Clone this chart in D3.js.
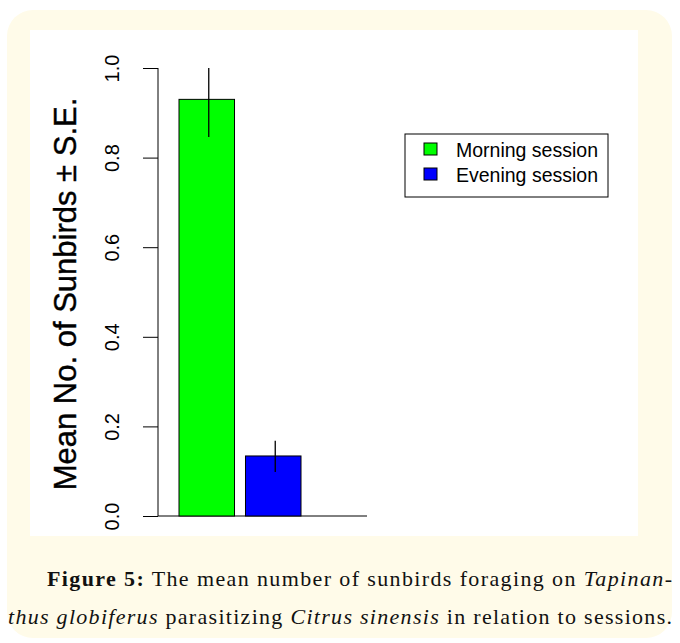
<!DOCTYPE html>
<html>
<head>
<meta charset="utf-8">
<script src="https://cdn.jsdelivr.net/npm/d3@7"></script>
<style>
  body { margin: 0; background: #fff; }
</style>
</head>
<body>
<div id="chart"></div>
<script>
// Data
const sessions = ["Morning session", "Evening session"];
const means = [0.93, 0.134];
const errLow = [0.846, 0.098];
const errHigh = [1.0, 0.168];
const barColors = ["#00ff00", "#0000ff"];
const yTicks = [0, 0.2, 0.4, 0.6, 0.8, 1.0];

const W = 680, H = 643;

const svg = d3.select("#chart")
  .append("svg")
    .attr("width", W)
    .attr("height", H)
    .style("font-family", "'Liberation Sans', Arial, sans-serif");

// Cream page panel and white figure area
svg.append("rect")
    .attr("x", 7).attr("y", 10)
    .attr("width", 665).attr("height", 628)
    .attr("rx", 26)
    .attr("fill", "#fffbe9");
svg.append("rect")
    .attr("x", 30).attr("y", 30)
    .attr("width", 608).attr("height", 506)
    .attr("fill", "#fff");

// Scales
const y = d3.scaleLinear().domain([0, 1]).range([516, 68]);
const x = d3.scaleBand()
  .domain(sessions)
  .range([179, 301])
  .paddingInner(0.165);

// Y axis (R style: long ticks, rotated labels)
const yAxis = svg.append("g")
    .attr("transform", "translate(158,0)")
    .call(d3.axisLeft(y).tickValues(yTicks).tickSize(15).tickFormat(d3.format(".1f")));
yAxis.attr("font-family", null).attr("font-size", null);
yAxis.select(".domain").attr("d", `M0,${y(1)}V${y(0)}`).attr("stroke", "#000");
yAxis.selectAll(".tick line").attr("stroke", "#000");
yAxis.selectAll(".tick text")
    .attr("x", 0)
    .attr("text-anchor", "middle")
    .attr("transform", "translate(-46,0) rotate(-90)")
    .attr("dy", "0.35em")
    .style("font-size", "20px")
    .attr("fill", "#000");

// Base line
svg.append("line")
    .attr("x1", 158).attr("x2", 367)
    .attr("y1", y(0)).attr("y2", y(0))
    .attr("stroke", "#000");

// Bars
svg.selectAll("rect.bar")
  .data(sessions)
  .enter()
  .append("rect")
    .attr("class", "bar")
    .attr("x", d => x(d))
    .attr("y", (d, i) => y(means[i]))
    .attr("width", x.bandwidth())
    .attr("height", (d, i) => y(0) - y(means[i]))
    .attr("fill", (d, i) => barColors[i])
    .attr("stroke", "#000");

// Error bars
svg.selectAll("line.err")
  .data(sessions)
  .enter()
  .append("line")
    .attr("class", "err")
    .attr("x1", d => x(d) + x.bandwidth() / 2 + 2)
    .attr("x2", d => x(d) + x.bandwidth() / 2 + 2)
    .attr("y1", (d, i) => y(errLow[i]))
    .attr("y2", (d, i) => y(errHigh[i]))
    .attr("stroke", "#000")
    .attr("stroke-width", 1.3);

// Y axis title
svg.append("text")
    .attr("transform", `translate(65,${(y(0) + y(1)) / 2 + 2}) rotate(-90)`)
    .attr("text-anchor", "middle")
    .attr("dy", "0.35em")
    .style("font-size", "31px")
    .style("stroke", "#000")
    .style("stroke-width", 0.4)
    .text("Mean No. of Sunbirds \u00b1 S.E.");

// Legend
const legend = svg.append("g").attr("transform", "translate(405,134)");
legend.append("rect")
    .attr("width", 203).attr("height", 63)
    .attr("fill", "#fff").attr("stroke", "#000");
sessions.forEach((s, i) => {
  legend.append("rect")
      .attr("x", 19).attr("y", 9 + i * 25)
      .attr("width", 13).attr("height", 12)
      .attr("fill", barColors[i]).attr("stroke", "#000");
  legend.append("text")
      .attr("x", 51).attr("y", 23 + i * 25)
      .style("font-size", "19.5px")
      .text(s);
});

// Caption
const cap = svg.append("g")
    .style("font-family", "'Liberation Serif', 'DejaVu Serif', serif")
    .style("font-size", "22px")
    .attr("fill", "#111");
const l1 = cap.append("text")
    .attr("x", 47).attr("y", 586)
    .attr("textLength", 625).attr("lengthAdjust", "spacing");
l1.append("tspan").style("font-weight", "bold").text("Figure 5:");
l1.append("tspan").text(" The mean number of sunbirds foraging on ");
l1.append("tspan").style("font-style", "italic").text("Tapinan-");
const l2 = cap.append("text")
    .attr("x", 8).attr("y", 624)
    .attr("textLength", 664).attr("lengthAdjust", "spacing");
l2.append("tspan").style("font-style", "italic").text("thus globiferus");
l2.append("tspan").text(" parasitizing ");
l2.append("tspan").style("font-style", "italic").text("Citrus sinensis");
l2.append("tspan").text(" in relation to sessions.");
</script>
</body>
</html>
